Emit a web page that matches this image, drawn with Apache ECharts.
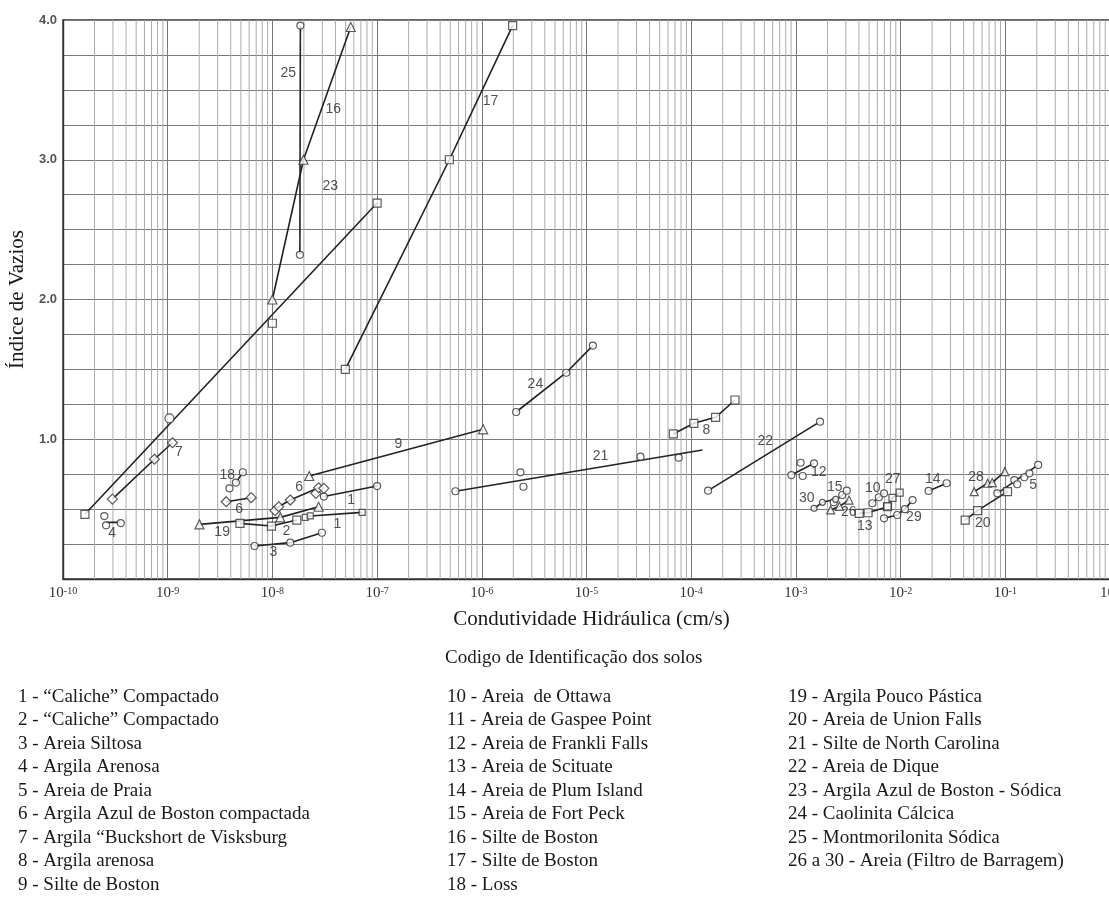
<!DOCTYPE html>
<html>
<head>
<meta charset="utf-8">
<script src="https://cdn.jsdelivr.net/npm/echarts@6/dist/echarts.min.js"></script>
<style>
  html, body { margin: 0; padding: 0; background: #fff; }
  #chart { width: 1109px; height: 897px; }
</style>
</head>
<body>
<div id="chart"></div>
<script>
// Hydraulic conductivity k (cm/s) against void ratio e, one array per soil code.
// "...Line" arrays hold the drawn trend line when it differs from the plotted points.
const soil1a = [[3.1e-8, 0.59], [1.0e-7, 0.665]];
const soil1b = [[2.06e-8, 0.441], [2.3e-8, 0.451], [7.2e-8, 0.477]];
const soil2 = [[4.9e-9, 0.398], [9.8e-9, 0.379], [1.71e-8, 0.422]];
const soil3 = [[6.75e-9, 0.236], [1.48e-8, 0.26], [2.97e-8, 0.331]];
const soil4Line = [[2.58e-10, 0.405], [3.5e-10, 0.405]];
const soil4 = [[2.48e-10, 0.45], [2.58e-10, 0.384], [3.56e-10, 0.40]];
const soil5Line = [[8.4e-2, 0.613], [2.06e-1, 0.816]];
const soil5 = [[8.4e-2, 0.613], [1.22e-1, 0.708], [1.3e-1, 0.678], [1.52e-1, 0.728], [1.7e-1, 0.756], [2.06e-1, 0.816]];
const soil6a = [[3.62e-9, 0.553], [6.27e-9, 0.582]];
const soil6bLine = [[1.06e-8, 0.489], [1.15e-8, 0.517], [1.48e-8, 0.565], [2.76e-8, 0.653]];
const soil6b = [[1.06e-8, 0.489], [1.15e-8, 0.517], [1.48e-8, 0.565], [2.6e-8, 0.613], [2.76e-8, 0.653], [3.1e-8, 0.649]];
const soil7 = [[2.96e-10, 0.572], [7.46e-10, 0.857], [1.11e-9, 0.975]];
const soil8 = [[6.75e-5, 1.038], [1.06e-4, 1.114], [1.71e-4, 1.157], [2.62e-4, 1.281]];
const soil9 = [[2.25e-8, 0.737], [1.03e-6, 1.071]];
const soil10 = [[5.38e-3, 0.542], [6.2e-3, 0.585], [6.95e-3, 0.613]];
const soil12Line = [[9.06e-4, 0.744], [1.49e-3, 0.828]];
const soil12 = [[9.06e-4, 0.744], [1.11e-3, 0.832], [1.16e-3, 0.737], [1.49e-3, 0.828]];
const soil13 = [[4.02e-3, 0.47], [4.89e-3, 0.474], [7.5e-3, 0.517]];
const soil14 = [[1.85e-2, 0.63], [2.75e-2, 0.685]];
const soil15 = [[2.3e-3, 0.55], [2.77e-3, 0.601], [3.06e-3, 0.632]];
const soil16 = [[1.0e-8, 2.0], [1.98e-8, 3.0], [5.6e-8, 3.95]];
const soil17 = [[4.97e-8, 1.5], [4.9e-7, 3.0], [1.97e-6, 3.96]];
const soil18Line = [[4.48e-9, 0.69], [5.22e-9, 0.764]];
const soil18 = [[3.89e-9, 0.649], [4.48e-9, 0.69], [5.22e-9, 0.764]];
const soil19 = [[2.01e-9, 0.391], [1.19e-8, 0.441], [2.76e-8, 0.517]];
const soil20 = [[4.14e-2, 0.422], [5.43e-2, 0.489], [1.05e-1, 0.625]];
const soil21Line = [[5.6e-7, 0.628], [1.28e-4, 0.923]];
const soil21 = [[5.6e-7, 0.628], [2.34e-6, 0.763], [2.5e-6, 0.66], [3.28e-5, 0.875], [7.6e-5, 0.868]];
const soil22 = [[1.45e-4, 0.632], [1.7e-3, 1.126]];
const soil23Line = [[1.62e-10, 0.463], [1.0e-7, 2.69]];
const soil23 = [[1.62e-10, 0.463], [1.0e-8, 1.83], [1.0e-7, 2.69]];
const soil23b = [[1.04e-9, 1.15]];
const soil24 = [[2.13e-6, 1.195], [6.4e-6, 1.476], [1.15e-5, 1.67]];
const soil25 = [[1.83e-8, 2.32], [1.85e-8, 3.96]];
const soil26 = [[2.15e-3, 0.494], [2.6e-3, 0.52], [3.22e-3, 0.565]];
const soil27 = [[7.5e-3, 0.52], [8.36e-3, 0.58], [9.8e-3, 0.618]];
const soil28 = [[5.05e-2, 0.625], [6.78e-2, 0.685], [7.5e-2, 0.69], [9.9e-2, 0.768]];
const soil29 = [[6.95e-3, 0.434], [9.3e-3, 0.458], [1.1e-2, 0.5], [1.3e-2, 0.565]];
const soil30 = [[1.49e-3, 0.506], [1.79e-3, 0.549], [2.4e-3, 0.57]];

// Soil code tags written beside the curves: [text, k, e]
const codeTags = [
  ['25', 1.42e-8, 3.62], ['16', 3.81e-8, 3.36], ['23', 3.57e-8, 2.81], ['17', 1.21e-6, 3.42],
  ['7', 1.28e-9, 0.909], ['4', 2.94e-10, 0.33], ['18', 3.7e-9, 0.744], ['6', 4.82e-9, 0.50],
  ['6', 1.8e-8, 0.658], ['1', 5.66e-8, 0.565], ['1', 4.17e-8, 0.394], ['2', 1.36e-8, 0.343],
  ['19', 3.31e-9, 0.336], ['3', 1.02e-8, 0.193], ['9', 1.6e-7, 0.966], ['24', 3.25e-6, 1.395],
  ['21', 1.36e-5, 0.88], ['8', 1.4e-4, 1.066], ['22', 5.1e-4, 0.988], ['12', 1.65e-3, 0.766],
  ['15', 2.35e-3, 0.658], ['30', 1.27e-3, 0.58], ['26', 3.2e-3, 0.48], ['13', 4.55e-3, 0.379],
  ['10', 5.42e-3, 0.651], ['27', 8.4e-3, 0.716], ['29', 1.34e-2, 0.444], ['14', 2.03e-2, 0.716],
  ['28', 5.24e-2, 0.73], ['20', 6.1e-2, 0.40], ['5', 1.84e-1, 0.673]
];

// Soil identification list, three columns
const soilNamesCol1 = [
  '1 - “Caliche” Compactado', '2 - “Caliche” Compactado', '3 - Areia Siltosa',
  '4 - Argila Arenosa', '5 - Areia de Praia', '6 - Argila Azul de Boston compactada',
  '7 - Argila “Buckshort de Visksburg', '8 - Argila arenosa', '9 - Silte de Boston'
];
const soilNamesCol2 = [
  '10 - Areia  de Ottawa', '11 - Areia de Gaspee Point', '12 - Areia de Frankli Falls',
  '13 - Areia de Scituate', '14 - Areia de Plum Island', '15 - Areia de Fort Peck',
  '16 - Silte de Boston', '17 - Silte de Boston', '18 - Loss'
];
const soilNamesCol3 = [
  '19 - Argila Pouco Pástica', '20 - Areia de Union Falls', '21 - Silte de North Carolina',
  '22 - Areia de Dique', '23 - Argila Azul de Boston - Sódica', '24 - Caolinita Cálcica',
  '25 - Montmorilonita Sódica', '26 a 30 - Areia (Filtro de Barragem)'
];

// Log-paper minor rulings inside each decade
const minorSteps = [2, 3, 4, 5, 6, 7, 8, 9];
const decadeExponents = [-10, -9, -8, -7, -6, -5, -4, -3, -2, -1];

const INK = '#222222';
const SERIF = '"Liberation Serif", "DejaVu Serif", serif';
const SANS = '"Liberation Sans", Arial, sans-serif';

// [trend line, markers, symbol, size]
const groups = [
  [soil1a, soil1a, 'circle', 7],
  [soil1b, soil1b, 'rect', 6],
  [soil2, soil2, 'rect', 8],
  [soil3, soil3, 'circle', 7],
  [soil4Line, soil4, 'circle', 7],
  [soil5Line, soil5, 'circle', 7],
  [soil6a, soil6a, 'diamond', 10],
  [soil6bLine, soil6b, 'diamond', 10],
  [soil7, soil7, 'diamond', 10],
  [soil8, soil8, 'rect', 8],
  [soil9, soil9, 'triangle', 9],
  [soil10, soil10, 'circle', 7],
  [soil12Line, soil12, 'circle', 7],
  [soil13, soil13, 'rect', 8],
  [soil14, soil14, 'circle', 7],
  [soil15, soil15, 'circle', 7],
  [soil16, soil16, 'triangle', 9],
  [soil17, soil17, 'rect', 8],
  [soil18Line, soil18, 'circle', 7],
  [soil19, soil19, 'triangle', 9],
  [soil20, soil20, 'rect', 8],
  [soil21Line, soil21, 'circle', 7],
  [soil22, soil22, 'circle', 7],
  [soil23Line, soil23, 'rect', 8],
  [[], soil23b, 'circle', 9],
  [soil24, soil24, 'circle', 7],
  [soil25, soil25, 'circle', 7],
  [soil26, soil26, 'triangle', 8],
  [soil27, soil27, 'rect', 7],
  [soil28, soil28, 'triangle', 8],
  [soil29, soil29, 'circle', 7],
  [soil30, soil30, 'circle', 6]
];

const series = [];

// minor vertical rulings of the log paper, one full-height segment each
decadeExponents.forEach(function (d) {
  minorSteps.forEach(function (m) {
    const k = m * Math.pow(10, d);
    series.push({
      type: 'line', data: [[k, 0], [k, 4]], symbol: 'none', silent: true, z: 1,
      lineStyle: { color: '#ababab', width: 1 }
    });
  });
});

groups.forEach(function (g) {
  if (g[0].length) {
    series.push({
      type: 'line', data: g[0], symbol: 'none', silent: true, z: 3,
      lineStyle: { color: INK, width: 1.6 }
    });
  }
  series.push({
    type: 'scatter', data: g[1], symbol: g[2], symbolSize: g[3], silent: true, z: 4,
    itemStyle: { color: '#ffffff', borderColor: '#333333', borderWidth: 1.2 }
  });
});

series.push({
  type: 'scatter', silent: true, z: 5, symbolSize: 1,
  itemStyle: { color: 'rgba(0,0,0,0)' },
  data: codeTags.map(function (t) { return { name: t[0], value: [t[1], t[2]] }; }),
  label: {
    show: true, position: 'inside', formatter: '{b}',
    color: '#262626', fontSize: 14, fontFamily: SANS
  }
});

function legendColumn(lines, x) {
  return {
    type: 'text', left: x, top: 685, silent: true,
    style: { text: lines.join('\n'), font: '19px ' + SERIF, fill: '#1a1a1a', lineHeight: 23.5 }
  };
}

const option = {
  animation: false,
  backgroundColor: '#ffffff',
  grid: {
    left: 63, top: 20, width: 1047, height: 559,
    outerBoundsMode: 'none', containLabel: false,
    show: true, borderColor: '#333333', borderWidth: 1.4, backgroundColor: 'transparent'
  },
  xAxis: {
    type: 'log', logBase: 10, min: 1e-10, max: 1, interval: 1,
    axisLine: { show: true, lineStyle: { color: '#333333', width: 1.4 } },
    axisTick: { show: false },
    splitLine: { show: true, lineStyle: { color: '#777777', width: 1 } },
    axisLabel: {
      margin: 7, showMinLabel: true, showMaxLabel: true, hideOverlap: false,
      formatter: function (v) {
        const e = Math.round(Math.log10(v));
        return '{b|10}{s|' + (e < 0 ? '-' + (-e) : e) + '}';
      },
      rich: {
        b: { fontSize: 15, fontFamily: SERIF, color: '#333', verticalAlign: 'bottom' },
        s: { fontSize: 10, fontFamily: SERIF, color: '#333', verticalAlign: 'top' }
      }
    },
    name: 'Condutividade Hidráulica (cm/s)', nameLocation: 'middle', nameGap: 30,
    nameTextStyle: { fontFamily: SERIF, fontSize: 21, color: '#1a1a1a', padding: [0, 0, 0, 10] }
  },
  yAxis: {
    type: 'value', min: 0, max: 4, interval: 0.25,
    axisLine: { show: true, lineStyle: { color: '#333333', width: 1.4 } },
    axisTick: { show: false },
    splitLine: { show: true, lineStyle: { color: '#7a7a7a', width: 1 } },
    axisLabel: {
      margin: 6, color: '#555', fontFamily: SANS, fontSize: 13, fontWeight: 'bold',
      formatter: function (v) {
        return (v > 0 && Math.abs(v - Math.round(v)) < 1e-9) ? v.toFixed(1) : '';
      }
    },
    name: 'Índice de Vazios', nameLocation: 'middle', nameGap: 14,
    nameTextStyle: { fontFamily: SERIF, fontSize: 21, color: '#1a1a1a' }
  },
  graphic: [
    {
      type: 'text', left: 445, top: 649, silent: true,
      style: { text: 'Codigo de Identificação dos solos', font: '19px ' + SERIF, fill: '#1a1a1a' }
    },
    legendColumn(soilNamesCol1, 18),
    legendColumn(soilNamesCol2, 447),
    legendColumn(soilNamesCol3, 788)
  ],
  series: series
};

const chart = echarts.init(document.getElementById('chart'), null, { renderer: 'canvas' });
chart.setOption(option);
</script>
</body>
</html>
